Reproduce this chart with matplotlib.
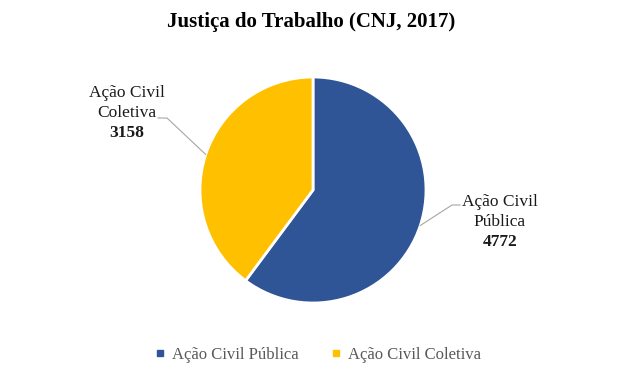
import matplotlib.pyplot as plt
import numpy as np

plt.rcParams['font.family'] = ['Liberation Serif', 'DejaVu Serif']

categorias = ['Ação Civil Pública', 'Ação Civil Coletiva']
rotulos = [['Ação Civil', 'Pública'], ['Ação Civil', 'Coletiva']]
valores = [4772, 3158]
cores = ['#2F5597', '#FFC000']

fig = plt.figure(figsize=(6.18, 3.76), dpi=100)
ax = fig.add_axes([0, 0, 1, 1])

cx, cy, r = 313, 376 - 190, 113
wedges, _ = ax.pie(valores, colors=cores, startangle=90, counterclock=False,
                   center=(cx, cy), radius=r,
                   wedgeprops=dict(edgecolor='white', linewidth=2))
ax.set_xlim(0, 618)
ax.set_ylim(0, 376)
ax.set_aspect('equal')
ax.axis('off')

# posição da primeira linha de cada rótulo e pontos da linha guia
pos_texto = [(500, 376 - 202), (127, 376 - 93)]
cotovelo = [(452, 376 - 205), (167, 376 - 118)]
fim_linha = [(460, 376 - 205), (158, 376 - 118)]
passo = 20

for w, rot, v, pt, cot, fim in zip(wedges, rotulos, valores, pos_texto, cotovelo, fim_linha):
    ang = np.deg2rad((w.theta1 + w.theta2) / 2)
    ex, ey = cx + r * np.cos(ang), cy + r * np.sin(ang)
    ax.plot([ex, cot[0], fim[0]], [ey, cot[1], fim[1]], color='#A6A6A6', lw=0.8)
    for i, linha in enumerate(rot):
        ax.text(pt[0], pt[1] - i * passo, linha, ha='center', va='center',
                fontsize=12.5, color='#1a1a1a')
    ax.text(pt[0], pt[1] - 2 * passo, str(v), ha='center', va='center', fontsize=12.5,
            fontweight='bold', color='#1a1a1a')

ax.text(311, 376 - 22, 'Justiça do Trabalho (CNJ, 2017)', ha='center', va='center',
        fontsize=15, fontweight='bold', color='black')

handles = [plt.Line2D([], [], marker='s', ls='', color=c, markersize=5) for c in cores]
fig.legend(handles, categorias, loc='center', bbox_to_anchor=(318 / 618, 1 - 355 / 376),
           ncol=2, frameon=False, fontsize=12, handlelength=0.6, handletextpad=0.4,
           columnspacing=2.0, labelcolor='#595959')

fig.savefig('out.png', dpi=100)
